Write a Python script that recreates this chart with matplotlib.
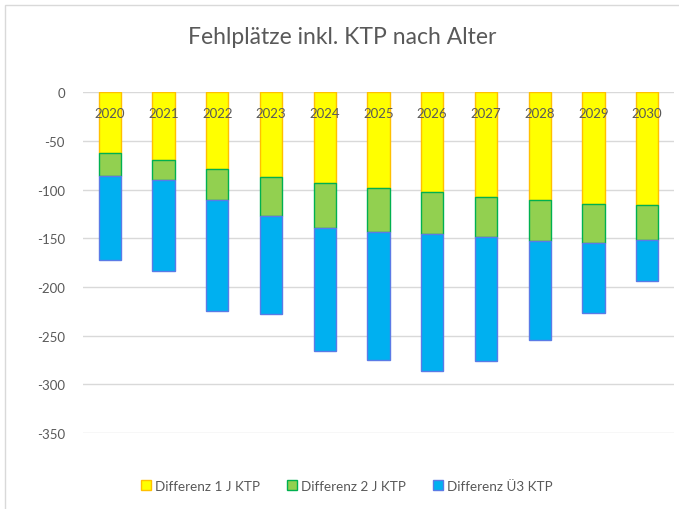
import matplotlib
matplotlib.use("Agg")
import matplotlib.pyplot as plt
from matplotlib.patches import Rectangle
import numpy as np

years = ["2020", "2021", "2022", "2023", "2024", "2025", "2026", "2027", "2028", "2029", "2030"]
diff_1j = [-62, -70, -79, -87, -93, -98, -102, -108, -111, -115, -116]
diff_2j = [-24, -20, -32, -40, -46, -45, -44, -41, -42, -40, -36]
diff_u3 = [-86, -94, -114, -101, -127, -132, -140, -127, -101, -72, -42]
series_names = ["Differenz 1 J KTP", "Differenz 2 J KTP", "Differenz Ü3 KTP"]
y_ticks = [0, -50, -100, -150, -200, -250, -300, -350]

plt.rcParams['font.family'] = ['Lato', 'DejaVu Sans']

W, H = 679, 510
fig = plt.figure(figsize=(W / 100, H / 100), dpi=100)
ax = fig.add_axes([83 / W, 1 - 434 / H, (674 - 83) / W, (434 - 93.3) / H])

x = np.arange(len(years))
width = 0.415
fills = ["#FFFF00", "#92D050", "#00B0F0"]
edges = ["#FFC000", "#00B050", "#5B7BE6"]
b1 = ax.bar(x, diff_1j, width, color=fills[0], edgecolor=edges[0], linewidth=1.0, zorder=3)
bottom2 = np.array(diff_1j)
b2 = ax.bar(x, diff_2j, width, bottom=bottom2, color=fills[1], edgecolor=edges[1], linewidth=1.0, zorder=3)
bottom3 = bottom2 + np.array(diff_2j)
b3 = ax.bar(x, diff_u3, width, bottom=bottom3, color=fills[2], edgecolor=edges[2], linewidth=1.0, zorder=3)

ax.set_xlim(-0.5, len(years) - 0.5)
ax.set_ylim(-350, 0)
ax.set_yticks(y_ticks)
ax.set_yticklabels([str(v) for v in y_ticks])
ax.yaxis.grid(True, color="#D9D9D9", linewidth=1.0, zorder=0)
ax.set_axisbelow(True)
for s in ax.spines.values():
    s.set_visible(False)
ax.tick_params(axis="y", length=0, labelsize=9.5, labelcolor="#595959", pad=13)
ax.tick_params(axis="x", length=0, labelsize=9.5, labelcolor="#595959")
ax.xaxis.set_ticks_position("top")
ax.set_xticks(x)
ax.set_xticklabels([])
for xi, yl in zip(x, years):
    ax.text(xi, -21.5, yl, ha="center", va="center", fontsize=9.5, color="#595959", zorder=5)

fig.text(342 / W, 1 - 37 / H, "Fehlplätze inkl. KTP nach Alter", ha="center", va="center",
         fontsize=16.5, color="#595959", fontweight="normal")

# outer chart frame
fig.patches.append(Rectangle((5 / W, -0.1), 2, 1 - 6.3 / H + 0.1, transform=fig.transFigure,
                             fill=False, edgecolor="#D9D9D9", linewidth=1.0))

leg = fig.legend([b1, b2, b3], series_names, loc="center", bbox_to_anchor=(347 / W, 1 - 487 / H),
                 ncol=3, frameon=False, fontsize=9.7, handlelength=0.75, handleheight=0.75,
                 handletextpad=0.3, columnspacing=2.0, labelcolor="#595959")

fig.savefig("out.png", dpi=100)
